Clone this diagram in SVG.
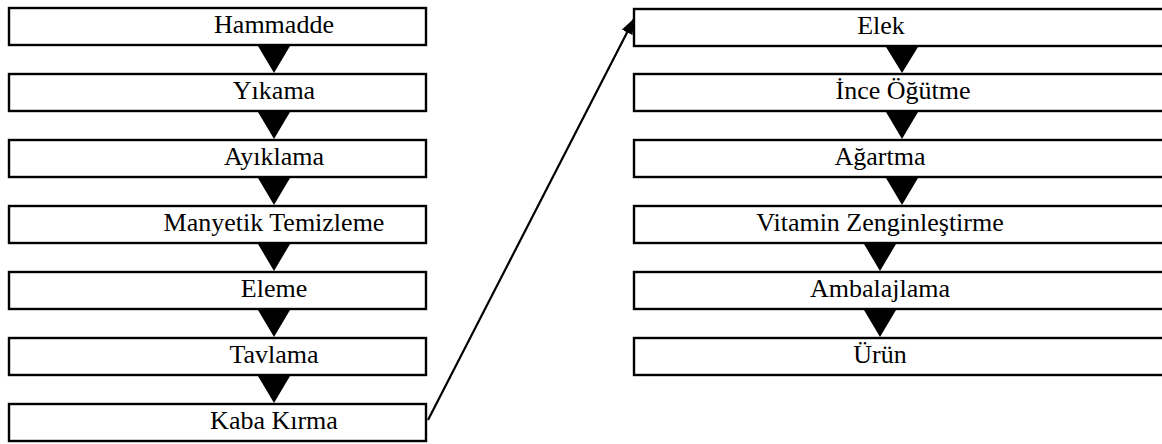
<svg xmlns="http://www.w3.org/2000/svg" width="1162" height="444" viewBox="0 0 1162 444">
<style>
.box{fill:#fff;stroke:#000;stroke-width:2.4}
.t{font-family:"Liberation Serif","Times New Roman",serif;font-size:26px;fill:#000;text-anchor:middle}
.tri{fill:#000}
.ln{stroke:#000;stroke-width:2.2;fill:none}
</style>
<defs>
<marker id="ah" viewBox="0 0 16 12" refX="15" refY="6" markerWidth="16" markerHeight="12" markerUnits="userSpaceOnUse" orient="auto">
<path d="M0,0 L16,6 L0,12 Z" fill="#000"/>
</marker>
</defs>
<g id="n1"><rect class="box" x="9" y="8" width="417" height="37"/><text class="t" x="274" y="33">Hammadde</text></g>
<g id="n2"><rect class="box" x="9" y="74" width="417" height="37"/><text class="t" x="274" y="99">Yıkama</text></g>
<g id="n3"><rect class="box" x="9" y="140" width="417" height="37"/><text class="t" x="274" y="165">Ayıklama</text></g>
<g id="n4"><rect class="box" x="9" y="206" width="417" height="37"/><text class="t" x="274" y="231">Manyetik Temizleme</text></g>
<g id="n5"><rect class="box" x="9" y="272" width="417" height="37"/><text class="t" x="274" y="297">Eleme</text></g>
<g id="n6"><rect class="box" x="9" y="338" width="417" height="37"/><text class="t" x="274" y="363">Tavlama</text></g>
<g id="n7"><rect class="box" x="9" y="404" width="417" height="37"/><text class="t" x="274" y="429">Kaba Kırma</text></g>
<g id="n8"><rect class="box" x="634" y="9" width="530" height="37"/><text class="t" x="881" y="34">Elek</text></g>
<g id="n9"><rect class="box" x="634" y="74" width="530" height="37"/><text class="t" x="903" y="99">İnce Öğütme</text></g>
<g id="n10"><rect class="box" x="634" y="140" width="530" height="37"/><text class="t" x="880" y="165">Ağartma</text></g>
<g id="n11"><rect class="box" x="634" y="206" width="530" height="37"/><text class="t" x="880" y="231">Vitamin Zenginleştirme</text></g>
<g id="n12"><rect class="box" x="634" y="272" width="530" height="37"/><text class="t" x="880" y="297">Ambalajlama</text></g>
<g id="n13"><rect class="box" x="634" y="338" width="530" height="37"/><text class="t" x="880" y="363">Ürün</text></g>
<g id="connectors">
<polygon class="tri" points="258,46 290,46 274,73"/>
<polygon class="tri" points="258,112 290,112 274,139"/>
<polygon class="tri" points="258,178 290,178 274,205"/>
<polygon class="tri" points="258,244 290,244 274,271"/>
<polygon class="tri" points="258,310 290,310 274,337"/>
<polygon class="tri" points="258,376 290,376 274,403"/>
<polygon class="tri" points="886,47 918,47 902,73"/>
<polygon class="tri" points="886,112 918,112 902,139"/>
<polygon class="tri" points="886,178 918,178 902,205"/>
<polygon class="tri" points="864,244 896,244 880,271"/>
<polygon class="tri" points="864,310 896,310 880,337"/>
<line class="ln" x1="428" y1="420" x2="634" y2="19" marker-end="url(#ah)"/>
</g>
</svg>
